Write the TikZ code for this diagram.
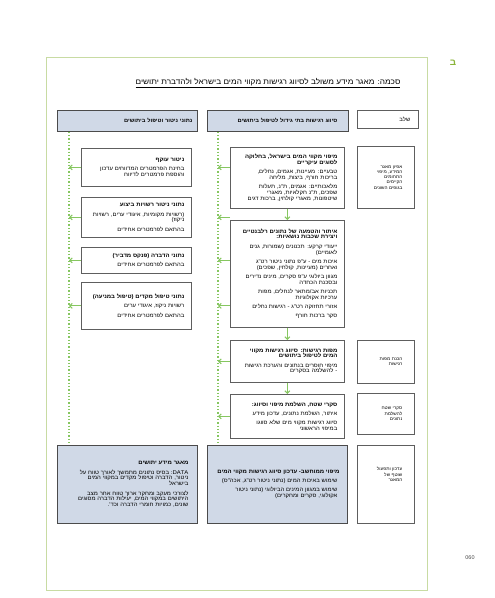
\documentclass[tikz,border=0pt]{standalone}
\usepackage{fontspec}
\setmainfont{Liberation Sans}
\newfontfamily\heb[Script=Hebrew, FakeStretch=1.1]{Liberation Sans}
\usetikzlibrary{arrows.meta,positioning,calc}
\TeXXeTstate=1
\definecolor{hdrfill}{HTML}{D0D9E7}
\definecolor{boxline}{HTML}{5E5E5E}
\definecolor{green4}{HTML}{86C660}
\definecolor{frame9}{HTML}{C8DBA3}
\definecolor{green2}{HTML}{8AB43A}
\newcommand{\rl}[1]{\mbox{\beginR#1\endR}}
\newcommand{\rb}[1]{\mbox{\bfseries\beginR#1\endR}}

\begin{document}
\begin{tikzpicture}[x=1pt, y=-1pt,
  box/.style={draw=boxline, line width=0.7pt, fill=white, anchor=north west,
    inner xsep=7pt, inner ysep=1pt, align=right,
    font=\heb\fontsize{5.4}{5.8}\selectfont},
  hdr/.style={box, fill=hdrfill, draw=boxline!80!black, line width=0.8pt},
  stage/.style={box, inner xsep=12pt, text width=33pt, minimum width=57pt,
    font=\heb\fontsize{4.3}{5.2}\selectfont},
  dotline/.style={draw=green4, line width=1.3pt, dotted},
  garrow/.style={draw=green4, line width=1pt, -{Straight Barb[length=2.5pt, width=5pt]}}]
\useasboundingbox (0,0) rectangle (495,598);
% frame and page marks
\draw[frame9, line width=0.8pt] (46,57) rectangle (427,590);
\node[text=green2, font=\heb\bfseries\fontsize{9}{9}\selectfont] (chap) at (453,63) {\rl{ב}};
\node[text=black!70, font=\fontsize{5.5}{5.5}\selectfont] (page) at (470,558) {060};
\node[font=\heb\fontsize{7.5}{8}\selectfont] (title) at (268,83)
  {\underline{\rl{סכמה: מאגר מידע משולב לסיווג רגישות מקווי המים בישראל ולהדברת יתושים}}};

% headers
\node[hdr, inner xsep=5pt, text width=130pt, minimum height=21pt,
  font=\heb\fontsize{5.2}{6}\selectfont] (lh) at (57,110)
  {\rb{נתוני ניטור וטיפול ביתושים}};
\node[hdr, inner xsep=11pt, text width=119pt, minimum height=21pt,
  font=\heb\fontsize{5.2}{6}\selectfont] (mh) at (207,110)
  {\rb{סיווג רגישות בתי גידול לטיפול ביתושים}};
\node[box, inner xsep=8pt, text width=45pt, minimum height=18pt] (sh) at (357,110)
  {\rl{שלב}};

% stages
\node[stage, minimum height=62pt] (s1) at (357,146)
  {\rl{אפיון מאגר}\\\rl{המידע, מיפוי}\\\rl{התחומים}\\\rl{הקיימים}\\\rl{בגופים השונים}};
\node[stage, minimum height=43pt] (s2) at (357,340)
  {\rl{הכנת מפות}\\\rl{רגישות}};
\node[stage, minimum height=41pt] (s3) at (357,393)
  {\rl{סקרי שטח}\\\rl{להשלמת}\\\rl{נתונים}};
\node[stage, minimum height=78pt] (s4) at (357,445) {};
\node[stage, draw=none, fill=none, anchor=north east] (s4t) at ($(s4.north east)+(0,21)$)
  {\rl{עדכון ותפעול}\\\rl{שוטף של}\\\rl{המאגר}};

% sensitivity column
\node[box, text width=100pt, minimum height=61pt] (m1) at (230,147)
  {\rb{מיפוי מקווי המים בישראל, בחלוקה}\\\rb{לסוגים עיקריים}\\[3.5pt]
   \rl{טבעיים: מעיינות, אגמים, נחלים,}\\\rl{בריכות חורף, ביצות, מליחה}\\[3.5pt]
   \rl{מלאכותיים: אגמים, ת"נ, תעלות}\\\rl{שפכים, ת"נ חקלאיות, מאגרי}\\\rl{שיטפונות, מאגרי קולחין, ברכות דגים}};
\node[box, text width=100pt, minimum height=107pt] (m2) at (230,220)
  {\rb{איתור והטמעה של נתונים רלבנטיים}\\\rb{ויצירת שכבות נושאיות:}\\[3.5pt]
   \rl{ייעודי קרקע: תכנונים (שמורות, גנים}\\\rl{לאומיים)}\\[3.5pt]
   \rl{איכות מים - ע"פ נתוני ניטור רט"ג}\\\rl{ואחרים (מעיינות, קולחין, שפכים)}\\[3.5pt]
   \rl{מגוון ביולוגי ע"פ סקרים, מינים נדירים}\\\rl{ובסכנת הכחדה}\\[3.5pt]
   \rl{תכניות אב/מתאר לנחלים, מפות}\\\rl{ערכיות אקולוגיות}\\[3.5pt]
   \rl{אזורי תחזוקה רט"ג - רגישות נחלים}\\[3.5pt]
   \rl{סקר ברכות חורף}};
\node[box, text width=100pt, minimum height=42pt] (m3) at (230,340)
  {\rb{מפות רגישות: סיווג רגישות מקווי}\\\rb{המים לטיפול ביתושים}\\[3.5pt]
   \rl{מיפוי חוסרים בנתונים והערכת רגישות}\\\rl{- להשלמה בסקרים}};
\node[box, text width=100pt, minimum height=44pt] (m4) at (230,394)
  {\rb{סקרי שטח, השלמת מיפוי וסיווג:}\\[3.5pt]
   \rl{איתור, השלמת נתונים, עדכון מידע}\\[3.5pt]
   \rl{סיווג רגישות מקווי מים שלא סווגו}\\\rl{במיפוי הראשוני}};
\node[hdr, inner xsep=10pt, text width=120pt, minimum height=78pt] (mb) at (207,445)
  {\rb{מיפוי ממוחשב- עדכון סיווג רגישות מקווי המים}\\[3.5pt]
   \rl{שימוש באיכות המים (נתוני ניטור רט"ג, אכה"ס)}\\[3.5pt]
   \rl{שימוש במגוון המינים הביולוגי (נתוני ניטור}\\\rl{אקולוגי, סקרים ומחקרים)}};

% monitoring column
\node[box, text width=96pt, minimum height=38pt] (l1) at (81,148)
  {\rb{ניטור עוקף}\\[3.5pt]
   \rl{בחינת הפרמטרים המדווחים עדכון}\\\rl{והוספת פרמטרים לדיווח}};
\node[box, text width=96pt, minimum height=40pt] (l2) at (81,197)
  {\rb{נתוני ניטור רשויות ביצוע}\\[3.5pt]
   \rl{(רשויות מקומיות, איגודי ערים, רשויות}\\\rl{ניקוז)}\\[3.5pt]
   \rl{בהתאם לפרמטרים אחידים}};
\node[box, text width=96pt, minimum height=26pt] (l3) at (81,247)
  {\rb{נתוני הדברה (פנקס מדביר)}\\[3.5pt]
   \rl{בהתאם לפרמטרים אחידים}};
\node[box, text width=96pt, minimum height=47pt] (l4) at (81,282)
  {\rb{נתוני טיפול מקדים (טיפול במניעה)}\\[3.5pt]
   \rl{רשויות ניקוז, איגודי ערים}\\[3.5pt]
   \rl{בהתאם לפרמטרים אחידים}};
\node[hdr, inner xsep=9pt, text width=122pt, minimum height=78pt] (lb) at (57,445)
  {\rb{מאגר מידע יתושים}\\[3.5pt]
   \rl{\beginL DATA\endL: בסיס נתונים מתמשך לאורך טווח על}\\\rl{ניטור, הדברה וטיפול מקדים במקווי המים}\\\rl{בישראל}\\[3.5pt]
   \rl{לצורכי מעקב ומחקר ארוך טווח אחר מצב}\\\rl{היתושים במקווי המים, יעילות הדברה מסוגים}\\\rl{שונים, כמויות חומרי הדברה וכד'.}};

% dotted collectors and arrows
\coordinate (lline) at (69,0);
\coordinate (mline) at (218,0);
\draw[dotline] (lh.south -| lline) -- (lb.north -| lline);
\draw[dotline] (mh.south -| mline) -- (mb.north -| mline);
\foreach \b in {l1,l2,l3,l4}{
  \draw[garrow] (\b.west) -- (\b.west -| lline);
  \draw[garrow] (\b.west -| m2.west) -- (\b.west -| mline);
}
\draw[garrow] (m3.west) -- (m3.west -| mline);
\draw[garrow] (m4.west) -- (m4.west -| mline);
\draw[garrow] (m1.south) -- (m2.north);
\draw[garrow] (m2.south) -- (m3.north);
\draw[garrow] (m3.south) -- (m4.north);
\end{tikzpicture}
\end{document}
